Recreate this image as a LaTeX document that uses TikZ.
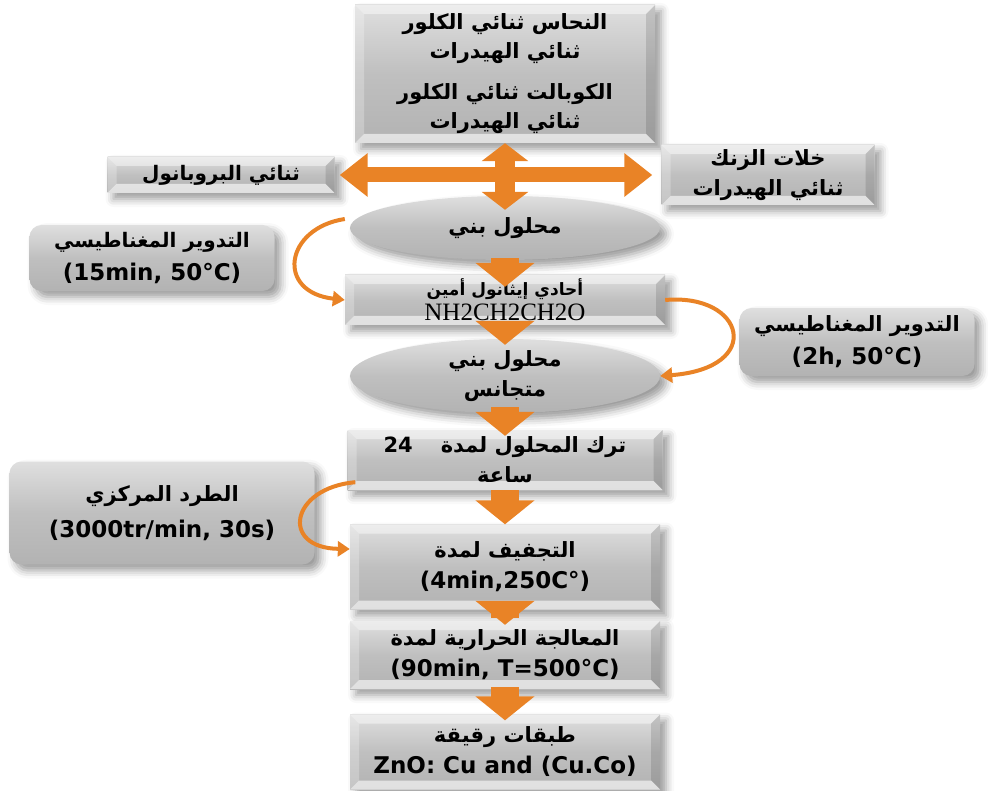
\documentclass[tikz,border=0pt]{standalone}
\usepackage{fontspec}
\setmainfont{DejaVu Sans}
\newfontfamily\arabicfont[Script=Arabic]{DejaVu Sans}
\newfontfamily\formulafont{Liberation Serif}
\usetikzlibrary{shapes.geometric,arrows.meta,shadows.blur}
\TeXXeTstate=1
\newcommand{\artext}[1]{\beginR #1\endR}
\newcommand{\lattext}[1]{{\rmfamily\bfseries\fontsize{23}{30}\selectfont #1}}
\definecolor{flowor}{RGB}{233,131,38}

\tikzset{
  every node/.style={align=center, inner sep=2pt},
  fs/.style 2 args={font=\arabicfont\bfseries\fontsize{#1}{#2}\selectfont},
  basebox/.style={top color=gray!25, bottom color=gray!60, middle color=gray!50,
    blur shadow={shadow xshift=6pt, shadow yshift=-6pt, shadow blur radius=8pt}},
  bevelbox/.style={basebox, rectangle,
    path picture={
      \path (path picture bounding box.north west) coordinate (bnw)
            (path picture bounding box.south east) coordinate (bse);
      \fill[white,opacity=.45] (bnw) -- (bnw-|bse) -- ([shift={(-9pt,-9pt)}]bnw-|bse) -- ([shift={(9pt,-9pt)}]bnw) -- cycle;
      \fill[white,opacity=.25] (bnw) -- ([shift={(9pt,-9pt)}]bnw) -- ([shift={(9pt,9pt)}]bnw|-bse) -- (bnw|-bse) -- cycle;
      \fill[black,opacity=.12] (bse) -- (bnw-|bse) -- ([shift={(-9pt,-9pt)}]bnw-|bse) -- ([shift={(-9pt,9pt)}]bse) -- cycle;
      \fill[white,opacity=.6] (bse) -- (bnw|-bse) -- ([shift={(9pt,9pt)}]bnw|-bse) -- ([shift={(-9pt,9pt)}]bse) -- cycle;
    }},
  roundbox/.style={basebox, rectangle, rounded corners=12pt},
  ellbox/.style={basebox, ellipse, inner sep=0pt},
  flowarrow/.style={flowor, line width=28pt, -{Triangle[width=58pt,length=24pt]}},
  crossarrow/.style={flowor, line width=#1},
  bendarrow/.style={flowor, line width=4pt, -{Triangle[width=15pt,length=12pt]}}
}

\begin{document}
\begin{tikzpicture}[x=1pt, y=-1pt]
\useasboundingbox (0,0) rectangle (988,791);

% Starting salts and solvent
\node[bevelbox, fs={21}{29}, minimum width=300pt, minimum height=138pt] (salts) at (505,74)
  {\artext{النحاس ثنائي الكلور}\\ \artext{ثنائي الهيدرات}\\[12pt]
   \artext{الكوبالت ثنائي الكلور}\\ \artext{ثنائي الهيدرات}};
\node[bevelbox, fs={20}{26}, minimum width=227pt, minimum height=36pt] (prop) at (221,175)
  {\artext{ثنائي البروبانول}};
\node[bevelbox, fs={21}{30}, minimum width=213pt, minimum height=60pt] (zinc) at (768,175)
  {\artext{خلات الزنك}\\ \artext{ثنائي الهيدرات}};

% Brown solution and side steps
\node[ellbox, fs={21}{30}, minimum width=310pt, minimum height=64pt] (brown) at (505,228)
  {\artext{محلول بني}};
\node[roundbox, fs={20}{33}, minimum width=245pt, minimum height=66pt] (stirA) at (152,258)
  {\artext{التدوير المغناطيسي}\\ \lattext{(15min, 50°C)}};
\node[bevelbox, fs={17}{25}, minimum width=320pt, minimum height=50pt] (mea) at (505,300)
  {\artext{أحادي إيثانول أمين}\\ {\formulafont\mdseries\fontsize{25}{25}\selectfont NH2CH2CH2O}};
\node[roundbox, fs={21}{33}, minimum width=235pt, minimum height=68pt] (stirB) at (857,342)
  {\artext{التدوير المغناطيسي}\\ \lattext{(2h, 50°C)}};
\node[ellbox, fs={21}{30}, minimum width=310pt, minimum height=74pt] (homog) at (505,376)
  {\artext{محلول بني}\\ \artext{متجانس}};

% Ageing, drying, annealing
\node[bevelbox, fs={21}{30}, minimum width=315pt, minimum height=60pt] (rest) at (505,460)
  {\artext{ترك المحلول لمدة\hspace{28pt}\beginL 24\endL}\\ \artext{ساعة}};
\node[roundbox, fs={21}{36}, minimum width=305pt, minimum height=103pt] (centr) at (162,513)
  {\artext{الطرد المركزي}\\ \lattext{(3000tr/min, 30s)}};
\node[bevelbox, fs={21}{31}, minimum width=310pt, minimum height=85pt] (dry) at (505,567)
  {\artext{التجفيف لمدة}\\ \lattext{(4min,250C°)}};
\node[bevelbox, fs={21}{31}, minimum width=310pt, minimum height=68pt] (anneal) at (505,655)
  {\artext{المعالجة الحرارية لمدة}\\ \lattext{(90min, T=500°C)}};
\node[bevelbox, fs={21}{31}, minimum width=310pt, minimum height=75pt] (film) at (505,752)
  {\artext{طبقات رقيقة}\\ \lattext{ZnO: Cu and (Cu.Co)}};

% Mixing cross
\draw[crossarrow=15pt, {Triangle[width=42pt,length=28pt]}-{Triangle[width=42pt,length=28pt]}, shorten <=5pt, shorten >=9pt] (prop.east) -- (zinc.west);
\draw[crossarrow=20pt, {Triangle[width=46pt,length=18pt]}-{Triangle[width=46pt,length=18pt]}, shorten >=-14pt] (salts.south) -- (brown.north);

% Main flow
\draw[flowarrow, shorten <=-2pt, shorten >=-12pt] (brown.south) -- (mea.north);
\draw[flowarrow, shorten <=-6pt, shorten >=-6pt] (mea.south) -- (homog.north);
\draw[flowarrow, shorten <=-6pt, shorten >=-6pt] (homog.south) -- (rest.north);
\draw[flowarrow] (rest.south) -- (dry.north);
\draw[flowarrow, shorten <=-8pt, shorten >=-4pt] (dry.south) -- (anneal.north);
\draw[flowarrow, shorten <=-2pt, shorten >=-6pt] (anneal.south) -- (film.north);

% Side arrows
\draw[bendarrow] ([xshift=-5pt,yshift=9pt]brown.west) .. controls (285,228) and (275,292) .. (mea.west);
\draw[bendarrow] (mea.east) .. controls (745,293) and (765,368) .. (homog.east);
\draw[bendarrow] ([xshift=8pt,yshift=8pt]rest.south west) .. controls (290,488) and (280,548) .. ([yshift=18pt]dry.west);

\end{tikzpicture}
\end{document}
